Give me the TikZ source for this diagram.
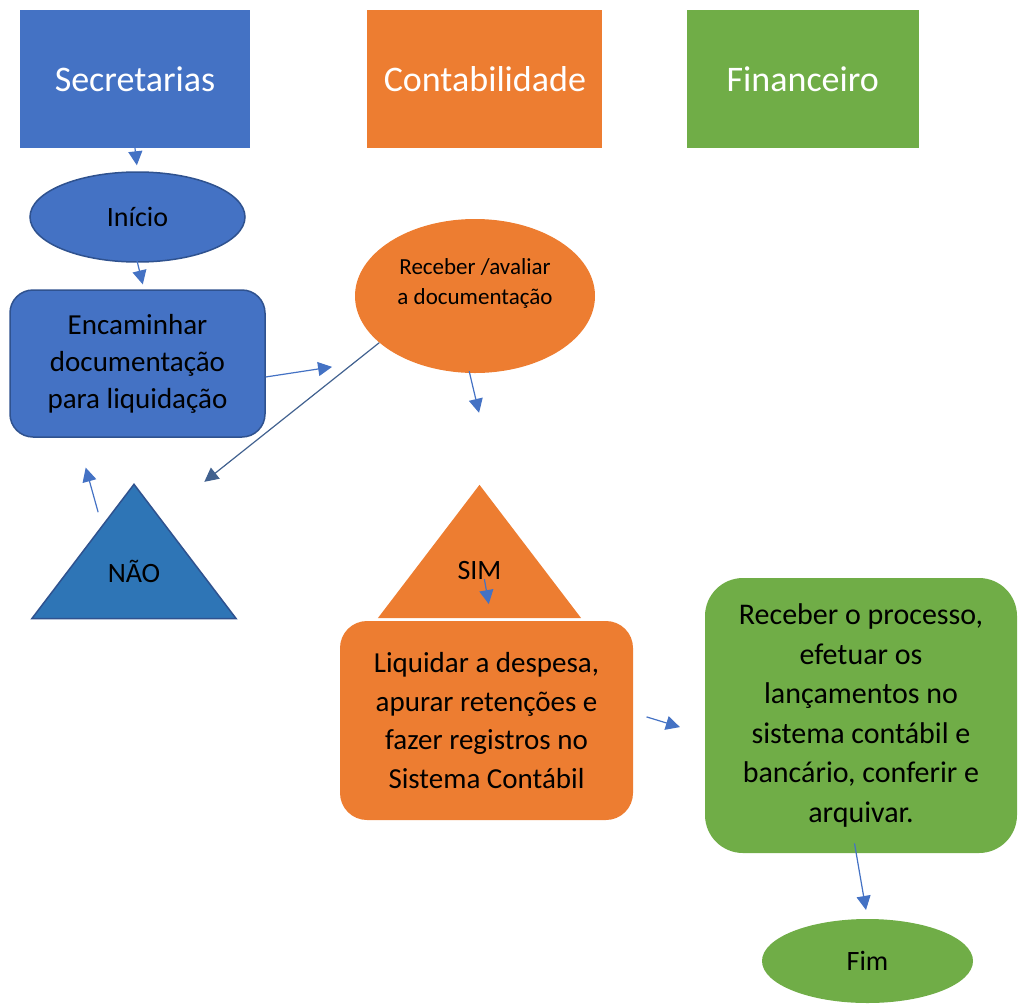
\documentclass[tikz,border=0pt]{standalone}
\usepackage{fontspec}
\setmainfont{Carlito}
\usetikzlibrary{shapes,arrows.meta,positioning,backgrounds}
\definecolor{secblue}{HTML}{4472C4}
\definecolor{darkblue}{HTML}{2F528F}
\definecolor{naoblue}{HTML}{2E75B6}
\definecolor{contorange}{HTML}{ED7D31}
\definecolor{fingreen}{HTML}{70AD47}
\definecolor{arrowblue}{HTML}{4472C4}
\definecolor{lineblue}{HTML}{41618F}

\begin{document}
\begin{tikzpicture}[x=1pt,y=-1pt]

  \tikzset{head node/.style={rectangle, minimum height=138pt, text=white,
  		font=\fontsize{36}{43}\selectfont}, }
  \tikzset{step node/.style={rectangle, align=center, text centered,
  		font=\fontsize{29}{37}\selectfont}, }
  \tikzset{end node/.style={ellipse, font=\fontsize{28}{34}\selectfont}, }
  \tikzset{tri node/.style={rectangle, minimum width=204pt, minimum height=134pt}, }
  \tikzset{tri text/.style={yshift=-19.5pt, font=\fontsize{28}{34}\selectfont}, }
  \tikzset{linea/.style={line width=1.2pt, -{Triangle[length=14pt,width=14pt]}}, }
\useasboundingbox (0,0) rectangle (1019,1004);

\node[head node, fill=secblue, minimum width=230pt] (sec) at (135,79) {Secretarias};
\node[head node, fill=contorange, minimum width=235pt] (cont) [right=117pt of sec] {Contabilidade};
\node[head node, fill=fingreen, minimum width=232pt] (finan) [right=84pt of cont] {Financeiro};

\node[end node, fill=secblue, draw=darkblue, line width=1.5pt,
      minimum width=215pt, minimum height=90pt] (ini) at (137.5,217) {Início};
\node[step node, fill=secblue, draw=darkblue, line width=1.5pt, rounded corners=23pt,
      minimum width=255pt, minimum height=147pt] (enc) at (137.5,363.5)
      {Encaminhar\\documentação\\para liquidação};

\node[ellipse, fill=contorange, minimum width=240pt, minimum height=154pt,
      label={[align=center, font=\fontsize{23}{30}\selectfont, yshift=13pt]center:{Receber /avaliar\\a documentação}}]
      (rec) at (475,296) {};

\node[tri node, label={[tri text]center:NÃO}] (nao) at (134,551.5) {};
\node[tri node, minimum width=203pt, minimum height=133pt,
      label={[tri text]center:SIM}] (sim) at (479.5,551.5) {};

\node[step node, fill=contorange, rounded corners=27pt, minimum width=293pt,
      minimum height=199pt, font=\fontsize{29}{38.5}\selectfont] (liq) at (486.5,720.5)
      {Liquidar a despesa,\\apurar retenções e\\fazer registros no\\Sistema Contábil};
\node[step node, fill=fingreen, rounded corners=38pt, minimum width=312pt,
      minimum height=275pt, font=\fontsize{30}{39.5}\selectfont] (proc) at (861,715.5)
      {Receber o processo,\\efetuar os\\lançamentos no\\sistema contábil e\\bancário, conferir e\\arquivar.};
\node[end node, fill=fingreen, minimum width=211pt, minimum height=84pt] (fim) at (867.5,961) {Fim};

\begin{scope}[on background layer]
  \filldraw[fill=naoblue, draw=darkblue, line width=1.5pt]
    (nao.north) -- (nao.south west) -- (nao.south east) -- cycle;
  \fill[contorange] (sim.north) -- (sim.south west) -- (sim.south east) -- cycle;
\end{scope}

\foreach \x/\y/\s/\e/\c in {sec.south/ini.north/0pt/6pt/arrowblue,
    ini.south/enc.85/-15.5pt/5pt/arrowblue, enc.-6/rec.219/0pt/69pt/arrowblue,
    rec.206/nao.45/0pt/4pt/lineblue, rec.266/sim.76/-2pt/74pt/arrowblue,
    nao.123/enc.231/-29pt/31pt/arrowblue, sim.center/liq.87/28pt/17pt/arrowblue,
    liq.3/proc.187/14pt/26pt/arrowblue, proc.268/fim.north/-10pt/9pt/arrowblue}
  \draw[linea, draw=\c, shorten <=\s, shorten >=\e] (\x) -- (\y);
%%
\end{tikzpicture}
\end{document}
